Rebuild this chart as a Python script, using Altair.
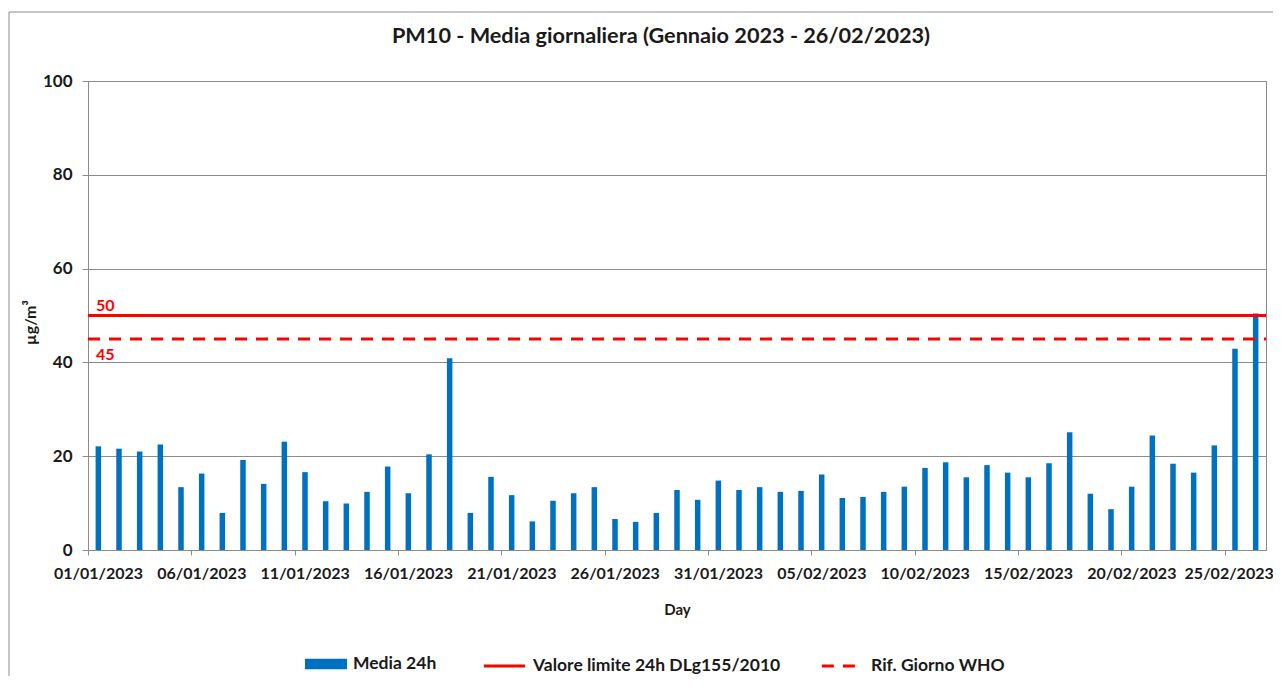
import altair as alt
import pandas as pd

FONT = "Lato"

days = [f"2023-01-{d:02d}" for d in range(1, 32)] + [f"2023-02-{d:02d}" for d in range(1, 27)]
pm10 = [22.1, 21.6, 21.0, 22.5, 13.4, 16.3, 7.9, 19.2, 14.1, 23.1,
        16.6, 10.4, 9.9, 12.4, 17.8, 12.1, 20.4, 40.9, 7.9, 15.6,
        11.7, 6.1, 10.5, 12.1, 13.4, 6.6, 6.0, 7.9, 12.8, 10.7,
        14.8, 12.8, 13.4, 12.4, 12.6, 16.1, 11.1, 11.3, 12.4, 13.5,
        17.5, 18.7, 15.5, 18.1, 16.5, 15.5, 18.5, 25.1, 12.0, 8.7,
        13.5, 24.4, 18.4, 16.5, 22.3, 42.9, 50.4]

title_text = "PM10 - Media giornaliera (Gennaio 2023 - 26/02/2023)"
bar_name = "Media 24h"
line_names = ["Valore limite 24h DLg155/2010", "Rif. Giorno WHO"]
line_values = [50, 45]
line_labels = ["50", "45"]
tick_days = [1, 6, 11, 16, 21, 26, 31, 36, 41, 46, 51, 56]  # day-of-period for axis ticks

bars = pd.DataFrame({
    "date": [d + "T12:00:00" for d in days],
    "value": pm10,
    "series": bar_name,
})

lines = pd.DataFrame({
    "start": ["2023-01-01T00:00:00"] * 2,
    "end": ["2023-02-27T00:00:00"] * 2,
    "value": line_values,
    "series": line_names,
    "label": line_labels,
})

tick_values = []
for n in tick_days:
    d = pd.Timestamp("2023-01-01") + pd.Timedelta(days=n - 1)
    tick_values.append(alt.DateTime(year=d.year, month=d.month, date=d.day))

GREY = "#8c8c8c"
INK = "#1a1a1a"

x_enc = alt.X(
    "date:T",
    scale=alt.Scale(domain=[alt.DateTime(year=2023, month=1, date=1),
                            alt.DateTime(year=2023, month=2, date=27)],
                    padding=0),
    axis=alt.Axis(values=tick_values, format="%d/%m/%Y", grid=False,
                  labelOffset={"condition": {"test": "datum.value >= datetime(2023, 1, 24)", "value": 4},
                               "value": 10},
                  labelPadding=10, tickSize=5, labelFlush=False,
                  labelOverlap=False, title="Day", titlePadding=21,
                  labelFontSize=16, titleFontSize=15),
)
y_enc = alt.Y(
    "value:Q",
    scale=alt.Scale(domain=[0, 100], nice=False, padding=0),
    axis=alt.Axis(values=[0, 20, 40, 60, 80, 100], grid=True, tickSize=6,
                  labelPadding=10, title="µg/m³", titlePadding=4, titleY=241,
                  labelFontSize=17, titleFontSize=16),
)

bar_layer = alt.Chart(bars).mark_bar(size=5.5).encode(
    x=x_enc,
    y=y_enc,
    fill=alt.Fill("series:N", scale=alt.Scale(domain=[bar_name], range=["#0070C0"]),
                  legend=alt.Legend(orient="none", legendX=217, legendY=562,
                                    title=None, symbolType="M-1,-0.25H1V0.25H-1Z",
                                    symbolSize=1764, symbolStrokeWidth=0,
                                    labelFontSize=17.5, labelOffset=6)),
)

line_legend = alt.Legend(orient="none", legendX=394, legendY=562.5, title=None,
                         direction="horizontal", columns=2, columnPadding=34,
                         symbolType="stroke", symbolSize=1700, symbolStrokeWidth=3,
                         symbolStrokeColor="#FF0000",
                         labelFontSize=17.5, labelOffset=6)

rule_layer = alt.Chart(lines).mark_rule(strokeWidth=3).encode(
    x="start:T",
    x2="end:T",
    y="value:Q",
    stroke=alt.Stroke("series:N", scale=alt.Scale(domain=line_names, range=["#FF0000", "#FF0000"]),
                      legend=line_legend),
    strokeDash=alt.StrokeDash("series:N", scale=alt.Scale(domain=line_names, range=[[1, 0], [12, 9]]),
                              legend=line_legend),
)

lab50 = alt.Chart(lines.iloc[[0]]).mark_text(
    align="left", baseline="bottom", dx=8, dy=-2, color="#FF0000",
    font=FONT, fontSize=16, fontWeight="bold"
).encode(x="start:T", y="value:Q", text="label:N")

lab45 = alt.Chart(lines.iloc[[1]]).mark_text(
    align="left", baseline="top", dx=8, dy=8, color="#FF0000",
    font=FONT, fontSize=16, fontWeight="bold"
).encode(x="start:T", y="value:Q", text="label:N")

title_layer = alt.Chart(pd.DataFrame({"t": [title_text]})).mark_text(
    align="center", baseline="alphabetic", font=FONT, fontSize=21.7, fontWeight="bold", color=INK
).encode(x=alt.value(573), y=alt.value(-38), text="t:N")

border_left = alt.Chart(bars.iloc[[0]]).mark_rule(color=GREY, strokeWidth=1).encode(
    x=alt.value(-79), y=alt.value(-69), y2=alt.value(700))
border_top = alt.Chart(bars.iloc[[0]]).mark_rule(color=GREY, strokeWidth=1).encode(
    x=alt.value(-79), x2=alt.value(1300), y=alt.value(-69))

chart = alt.layer(border_left, border_top, bar_layer, rule_layer, lab50, lab45, title_layer).properties(
    width=1178,
    height=469,
    padding={"left": 80, "top": 73, "right": 7, "bottom": 126},
    autosize=alt.AutoSizeParams(type="none"),
).configure_view(stroke=GREY, strokeWidth=1).configure_axis(
    domainColor=GREY, tickColor=GREY, gridColor=GREY, gridOpacity=1,
    labelFont=FONT, titleFont=FONT, labelFontWeight="bold", titleFontWeight="bold",
    labelColor=INK, titleColor=INK,
).configure_legend(
    labelFont=FONT, labelFontWeight="bold", labelColor=INK, labelLimit=0,
)

chart.save("out.html", embed_options={"renderer": "svg", "actions": False})
